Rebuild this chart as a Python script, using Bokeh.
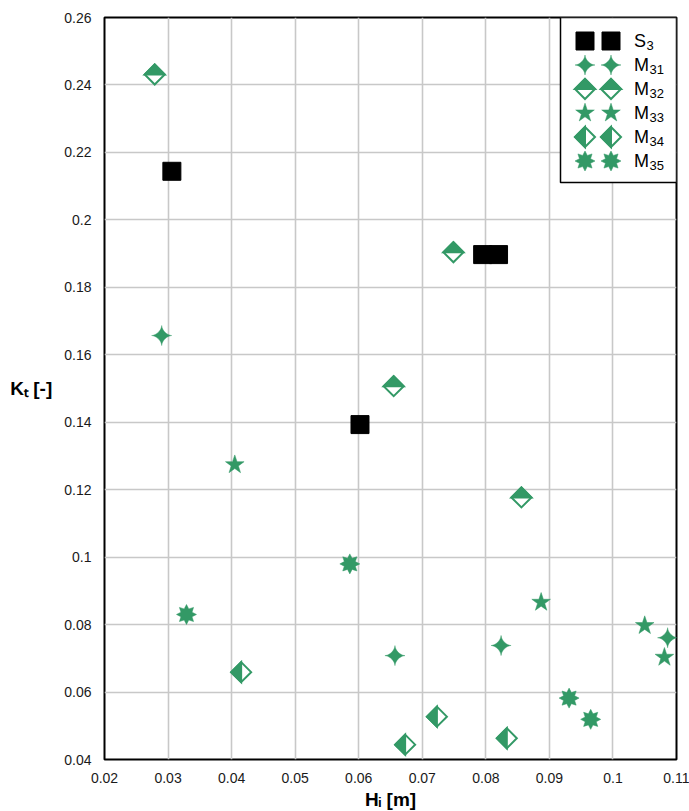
import math

from bokeh.embed import file_html
from bokeh.models import FixedTicker, Label, Range1d
from bokeh.plotting import figure
from bokeh.resources import INLINE

# ---- data -----------------------------------------------------------------
X_TICKS = [0.02, 0.03, 0.04, 0.05, 0.06, 0.07, 0.08, 0.09, 0.1, 0.11]
X_TICK_LABELS = ["0.02", "0.03", "0.04", "0.05", "0.06", "0.07", "0.08", "0.09", "0.1", "0.11"]
Y_TICKS = [0.04, 0.06, 0.08, 0.1, 0.12, 0.14, 0.16, 0.18, 0.2, 0.22, 0.24, 0.26]
Y_TICK_LABELS = ["0.04", "0.06", "0.08", "0.1", "0.12", "0.14", "0.16", "0.18", "0.2", "0.22", "0.24", "0.26"]

X_TITLE = "Hᵢ [m]"
Y_TITLE = "Kₜ [-]"

S3_X = [0.0306, 0.0602, 0.0795, 0.0820]
S3_Y = [0.2144, 0.1393, 0.1897, 0.1897]

M31_X = [0.0290, 0.0657, 0.0824, 0.1086]
M31_Y = [0.1657, 0.0708, 0.0738, 0.0761]

M32_X = [0.0279, 0.0749, 0.0655, 0.0856]
M32_Y = [0.2431, 0.1904, 0.1507, 0.1177]

M33_X = [0.0405, 0.0887, 0.1050, 0.1081]
M33_Y = [0.1274, 0.0866, 0.0797, 0.0703]

M34_X = [0.0415, 0.0673, 0.0723, 0.0833]
M34_Y = [0.0659, 0.0444, 0.0527, 0.0463]

M35_X = [0.0329, 0.0586, 0.0931, 0.0965]
M35_Y = [0.0830, 0.0980, 0.0582, 0.0519]

SERIES = ["S", "M", "M", "M", "M", "M"]
SUBSCRIPTS = ["3", "31", "32", "33", "34", "35"]

# ---- layout ---------------------------------------------------------------
X_MIN, X_MAX = 0.02, 0.11
Y_MIN, Y_MAX = 0.04, 0.26
FRAME_W, FRAME_H = 572, 742
SX = (X_MAX - X_MIN) / FRAME_W   # data units per pixel
SY = (Y_MAX - Y_MIN) / FRAME_H

GREEN = "#339966"
FONT = "Liberation Sans"


def fx(px):
    """x offset in pixels from the frame's left edge -> data x"""
    return X_MIN + px * SX


def fy(py):
    """y offset in pixels from the frame's top edge -> data y"""
    return Y_MAX - py * SY


# marker outlines in pixel units, centred on (0, 0), y up
def star_pts(n, r_out, r_in):
    pts = []
    for i in range(2 * n):
        ang = math.pi / 2 + i * math.pi / n
        r = r_out if i % 2 == 0 else r_in
        pts.append((r * math.cos(ang), r * math.sin(ang)))
    return pts


def sparkle_pts(r, e=3.2, steps=96):
    pts = []
    for i in range(steps):
        t = 2 * math.pi * i / steps
        c, s = math.cos(t), math.sin(t)
        pts.append((r * math.copysign(abs(c) ** e, c), r * math.copysign(abs(s) ** e, s)))
    return pts


DR = 10.0
DIAMOND = [(0, DR), (DR, 0), (0, -DR), (-DR, 0)]
DIAMOND_TOP = [(-DR, 0), (0, DR), (DR, 0)]
DIAMOND_LEFT = [(0, DR), (-DR, 0), (0, -DR)]
SPARKLE = sparkle_pts(10.0)
STAR5 = star_pts(5, 9.8, 3.8)
STAR8 = star_pts(8, 10.0, 6.0)


def place(pts, xs, ys):
    px = [[x + dx * SX for dx, _ in pts] for x in xs]
    py = [[y + dy * SY for _, dy in pts] for y in ys]
    return px, py


p = figure(
    frame_width=FRAME_W, frame_height=FRAME_H,
    x_range=Range1d(X_MIN, X_MAX), y_range=Range1d(Y_MIN, Y_MAX),
    output_backend="svg", toolbar_location=None,
    min_border_left=104, min_border_right=13, min_border_top=17, min_border_bottom=52,
    background_fill_color="white", border_fill_color="white",
)

p.outline_line_color = "black"
p.outline_line_width = 2

p.xaxis.ticker = FixedTicker(ticks=X_TICKS)
p.yaxis.ticker = FixedTicker(ticks=Y_TICKS)
p.xaxis.major_label_overrides = dict(zip(X_TICKS, X_TICK_LABELS))
p.yaxis.major_label_overrides = dict(zip(Y_TICKS, Y_TICK_LABELS))
for ax in (p.xaxis, p.yaxis):
    ax.axis_line_color = None
    ax.major_tick_line_color = None
    ax.minor_tick_line_color = None
    ax.major_label_text_font = FONT
    ax.major_label_text_font_size = "14px"
    ax.major_label_text_color = "#1a1a1a"
    ax.major_label_standoff = 7
    ax.axis_label_text_font = FONT
    ax.axis_label_text_font_style = "bold"
    ax.axis_label_text_color = "black"

p.xaxis.axis_label = X_TITLE
p.xaxis.axis_label_text_font_size = "19px"
p.xaxis.axis_label_standoff = 3
p.yaxis.axis_label = Y_TITLE
p.yaxis.axis_label_text_font_size = "19px"
p.yaxis.axis_label_orientation = "horizontal"
p.yaxis.axis_label_standoff = 9

p.xgrid.grid_line_color = "#c8c8c8"
p.ygrid.grid_line_color = "#c8c8c8"
p.xgrid.grid_line_width = 1.6
p.ygrid.grid_line_width = 1.6


def draw_sparkle(xs, ys):
    a, b = place(SPARKLE, xs, ys)
    p.patches(a, b, fill_color=GREEN, line_color=GREEN, line_width=0.5)


def draw_star5(xs, ys):
    a, b = place(STAR5, xs, ys)
    p.patches(a, b, fill_color=GREEN, line_color=GREEN, line_width=0.5)


def draw_star8(xs, ys):
    a, b = place(STAR8, xs, ys)
    p.patches(a, b, fill_color=GREEN, line_color=GREEN, line_width=0.5)


def draw_half_diamond(xs, ys, half):
    a, b = place(DIAMOND, xs, ys)
    p.patches(a, b, fill_color="white", line_color=GREEN, line_width=2, line_join="miter")
    a, b = place(half, xs, ys)
    p.patches(a, b, fill_color=GREEN, line_color=GREEN, line_width=2, line_join="miter")


def draw_square(xs, ys):
    p.scatter(xs, ys, marker="square", size=18, fill_color="black", line_color="black")


# data marks
draw_square(S3_X, S3_Y)
draw_sparkle(M31_X, M31_Y)
draw_half_diamond(M32_X, M32_Y, DIAMOND_TOP)
draw_star5(M33_X, M33_Y)
draw_half_diamond(M34_X, M34_Y, DIAMOND_LEFT)
draw_star8(M35_X, M35_Y)

# legend box in the upper right corner
LEG_L, LEG_R, LEG_T, LEG_B = 456, 572, 0, 165
p.quad(left=fx(LEG_L), right=fx(LEG_R), top=fy(LEG_T), bottom=fy(LEG_B),
       fill_color="white", line_color="black", line_width=1.5)

ROW0, ROW_STEP = 23.5, 24
MARK_X = [480.5, 506.5]
TEXT_X = 529.5
legend_draw = [
    draw_square,
    draw_sparkle,
    lambda xs, ys: draw_half_diamond(xs, ys, DIAMOND_TOP),
    draw_star5,
    lambda xs, ys: draw_half_diamond(xs, ys, DIAMOND_LEFT),
    draw_star8,
]
for i, (drawer, main, sub) in enumerate(zip(legend_draw, SERIES, SUBSCRIPTS)):
    ry = ROW0 + i * ROW_STEP
    drawer([fx(mx) for mx in MARK_X], [fy(ry)] * 2)
    p.add_layout(Label(x=fx(TEXT_X), y=fy(ry), text=main, text_font=FONT,
                       text_font_size="18px", text_baseline="middle", text_align="left",
                       text_color="black"))
    main_w = 15.0 if main == "M" else 12.0
    p.add_layout(Label(x=fx(TEXT_X + main_w + 0.5), y=fy(ry + 4.8), text=sub, text_font=FONT,
                       text_font_size="13px", text_baseline="middle", text_align="left",
                       text_color="black"))

open("out.html", "w").write(file_html(p, INLINE))
